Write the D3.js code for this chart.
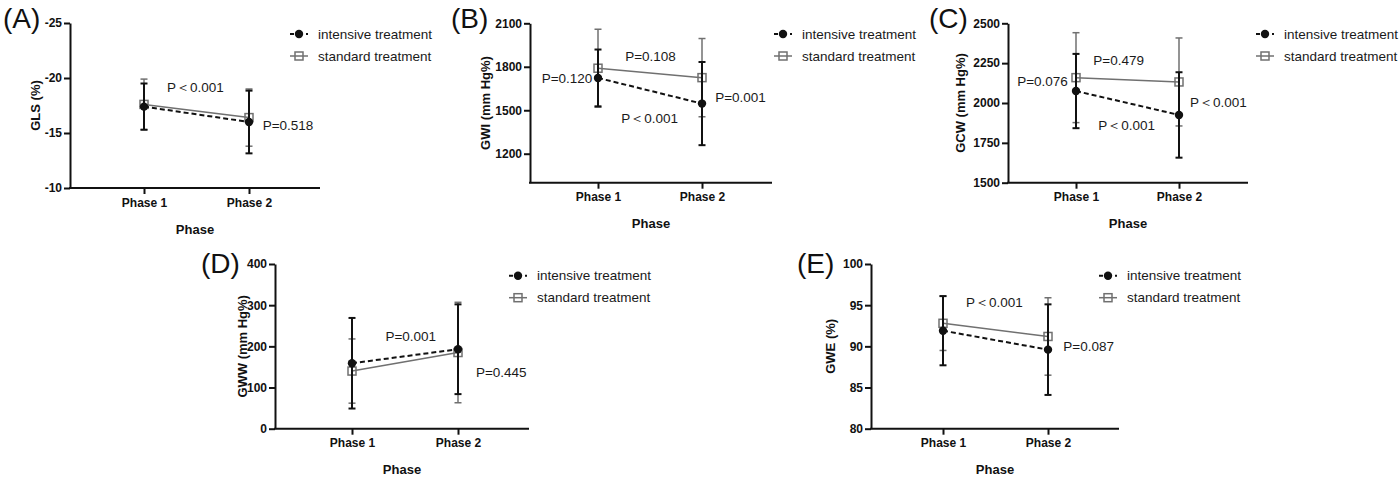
<!DOCTYPE html>
<html>
<head>
<meta charset="utf-8">
<script src="https://cdn.jsdelivr.net/npm/d3@7"></script>
<style>
  html, body { margin: 0; padding: 0; background: #fff; }
  svg { display: block; font-family: "Liberation Sans", Arial, sans-serif; }
</style>
</head>
<body>
<svg id="chart" width="1400" height="481"></svg>
<script>
// ---------------- data ----------------
const phases = ["Phase 1", "Phase 2"];
const seriesLabels = ["intensive treatment", "standard treatment"];
const xAxisTitle = "Phase";

// (A) GLS
const glsIntensiveMean = [-17.4, -16.0];
const glsIntensiveSD   = [2.1, 2.85];
const glsStandardMean  = [-17.6, -16.4];
const glsStandardSD    = [2.3, 2.6];
const glsTicks = [-25, -20, -15, -10];
const glsP = ["P＜0.001", "P=0.518"];

// (B) GWI
const gwiIntensiveMean = [1723, 1546];
const gwiIntensiveSD   = [196, 287];
const gwiStandardMean  = [1790, 1725];
const gwiStandardSD    = [269, 270];
const gwiTicks = [1200, 1500, 1800, 2100];
const gwiP = ["P=0.108", "P=0.120", "P=0.001", "P＜0.001"];

// (C) GCW
const gcwIntensiveMean = [2075, 1925];
const gcwIntensiveSD   = [233, 268];
const gcwStandardMean  = [2159, 2132];
const gcwStandardSD    = [282, 276];
const gcwTicks = [1500, 1750, 2000, 2250, 2500];
const gcwP = ["P=0.479", "P=0.076", "P＜0.001", "P＜0.001"];

// (D) GWW
const gwwIntensiveMean = [159, 193];
const gwwIntensiveSD   = [110, 109];
const gwwStandardMean  = [140, 185];
const gwwStandardSD    = [78, 122];
const gwwTicks = [0, 100, 200, 300, 400];
const gwwP = ["P=0.001", "P=0.445"];

// (E) GWE
const gweIntensiveMean = [91.9, 89.6];
const gweIntensiveSD   = [4.2, 5.5];
const gweStandardMean  = [92.8, 91.2];
const gweStandardSD    = [3.3, 4.7];
const gweTicks = [80, 85, 90, 95, 100];
const gweP = ["P＜0.001", "P=0.087"];

// ---------------- panels (data + layout) ----------------
const panels = [
  { tag: "(A)", title: "GLS (%)", im: glsIntensiveMean, isd: glsIntensiveSD, sm: glsStandardMean, ssd: glsStandardSD,
    ticks: glsTicks, domain: [-10, -25], pText: glsP,
    L: { x0: 70, x1: 320, yTop: 23, yBot: 188, p1: 144, p2: 249, titleX: 35, tagX: 3, tagY: 27.5, legX: 299, legY: 34,
         pPos: [[195.5, 87, "middle"], [262.7, 125, "start"]] } },
  { tag: "(B)", title: "GWI (mm Hg%)", im: gwiIntensiveMean, isd: gwiIntensiveSD, sm: gwiStandardMean, ssd: gwiStandardSD,
    ticks: gwiTicks, domain: [1000, 2100], pText: gwiP,
    L: { x0: 530, x1: 772, yTop: 23.3, yBot: 182.7, p1: 598, p2: 702, titleX: 485.5, tagX: 451, tagY: 27.5, legX: 783, legY: 34,
         pPos: [[650.5, 56, "middle"], [567, 78.7, "middle"], [740.5, 97, "middle"], [649.7, 118.3, "middle"]] } },
  { tag: "(C)", title: "GCW (mm Hg%)", im: gcwIntensiveMean, isd: gcwIntensiveSD, sm: gcwStandardMean, ssd: gcwStandardSD,
    ticks: gcwTicks, domain: [1500, 2500], pText: gcwP,
    L: { x0: 1008, x1: 1248, yTop: 23.3, yBot: 182.7, p1: 1076, p2: 1179, titleX: 960.8, tagX: 929, tagY: 27.5, legX: 1265, legY: 34,
         pPos: [[1118.7, 60, "middle"], [1042.5, 81, "middle"], [1218.3, 102.7, "middle"], [1126.7, 125.3, "middle"]] } },
  { tag: "(D)", title: "GWW (mm Hg%)", im: gwwIntensiveMean, isd: gwwIntensiveSD, sm: gwwStandardMean, ssd: gwwStandardSD,
    ticks: gwwTicks, domain: [0, 400], pText: gwwP,
    L: { x0: 275, x1: 529, yTop: 264, yBot: 428.7, p1: 352, p2: 458, titleX: 242, tagX: 201, tagY: 273, legX: 518, legY: 275.7,
         pPos: [[410.8, 336, "middle"], [501.3, 372.3, "middle"]] } },
  { tag: "(E)", title: "GWE (%)", im: gweIntensiveMean, isd: gweIntensiveSD, sm: gweStandardMean, ssd: gweStandardSD,
    ticks: gweTicks, domain: [80, 100], pText: gweP,
    L: { x0: 871, x1: 1119, yTop: 264, yBot: 428.7, p1: 943, p2: 1048, titleX: 830.7, tagX: 797, tagY: 273, legX: 1108, legY: 275.7,
         pPos: [[994.5, 302.7, "middle"], [1088.7, 346.7, "middle"]] } }
];

const BLACK = "#111";
const GRAY = "#707070";
const FONT = "'Liberation Sans', Arial, sans-serif";
const svg = d3.select("#chart");

panels.forEach(p => {
  const L = p.L;
  const g = svg.append("g");
  const y = d3.scaleLinear().domain(p.domain).range([L.yBot, L.yTop]);
  const x = d3.scalePoint().domain(phases).range([L.p1, L.p2]);

  // y axis
  const ya = g.append("g").attr("transform", `translate(${L.x0},0)`)
    .call(d3.axisLeft(y).tickValues(p.ticks).tickFormat(d => String(d))
      .tickSize(6).tickSizeOuter(0).tickPadding(2));
  ya.select(".domain").attr("stroke", BLACK).attr("stroke-width", 2);
  ya.selectAll(".tick line").attr("stroke", BLACK).attr("stroke-width", 2);
  ya.selectAll(".tick text").attr("fill", BLACK)
    .style("font-size", "12px").style("font-weight", "bold").style("font-family", FONT);

  // x axis
  const xa = g.append("g").attr("transform", `translate(0,${L.yBot})`)
    .call(d3.axisBottom(x).tickSize(6).tickPadding(4));
  xa.select(".domain").remove();
  xa.selectAll(".tick line").attr("stroke", BLACK).attr("stroke-width", 2);
  xa.selectAll(".tick text").attr("fill", BLACK)
    .style("font-size", "12px").style("font-weight", "bold").style("font-family", FONT);
  g.append("line").attr("x1", L.x0 - 1).attr("x2", L.x1).attr("y1", L.yBot).attr("y2", L.yBot)
    .attr("stroke", BLACK).attr("stroke-width", 2);

  // titles
  g.append("text").attr("x", (L.x0 + L.x1) / 2).attr("y", L.yBot + 41).attr("dy", "0.35em")
    .attr("text-anchor", "middle").style("font-size", "13px").style("font-weight", "bold").attr("fill", BLACK)
    .text(xAxisTitle);
  g.append("text").attr("transform", `translate(${L.titleX},${(L.yTop + L.yBot) / 2}) rotate(-90)`)
    .attr("dy", "0.35em").attr("text-anchor", "middle").style("font-size", "13px").style("font-weight", "bold")
    .attr("fill", BLACK).text(p.title);
  g.append("text").attr("x", L.tagX).attr("y", L.tagY).style("font-size", "28px").attr("fill", BLACK).text(p.tag);

  // series
  const series = [
    { mean: p.sm, sd: p.ssd, color: GRAY, width: 1.5, dash: null, shape: "square" },
    { mean: p.im, sd: p.isd, color: BLACK, width: 2, dash: "5,3", shape: "circle" }
  ];
  series.forEach(s => {
    const pts = phases.map((ph, i) => ({ ph, m: s.mean[i], sd: s.sd[i] }));
    // error bars
    pts.forEach(d => {
      const cx = x(d.ph);
      g.append("line").attr("x1", cx).attr("x2", cx).attr("y1", y(d.m - d.sd)).attr("y2", y(d.m + d.sd))
        .attr("stroke", s.color).attr("stroke-width", s.width);
      [d.m - d.sd, d.m + d.sd].forEach(v => {
        g.append("line").attr("x1", cx - 3.5).attr("x2", cx + 3.5).attr("y1", y(v)).attr("y2", y(v))
          .attr("stroke", s.color).attr("stroke-width", s.width);
      });
    });
    // line
    g.append("path").datum(pts)
      .attr("d", d3.line().x(d => x(d.ph)).y(d => y(d.m)))
      .attr("fill", "none").attr("stroke", s.color).attr("stroke-width", s.width)
      .attr("stroke-dasharray", s.dash);
    // markers
    pts.forEach(d => {
      if (s.shape === "circle") {
        g.append("circle").attr("cx", x(d.ph)).attr("cy", y(d.m)).attr("r", 4.2).attr("fill", BLACK);
      } else {
        g.append("rect").attr("x", x(d.ph) - 4).attr("y", y(d.m) - 4).attr("width", 8).attr("height", 8)
          .attr("fill", "none").attr("stroke", GRAY).attr("stroke-width", 1.5);
      }
    });
  });

  // p-value annotations
  p.pText.forEach((t, i) => {
    const pos = L.pPos[i];
    g.append("text").attr("x", pos[0]).attr("y", pos[1]).attr("dy", "0.35em").attr("text-anchor", pos[2])
      .style("font-size", "13.5px").attr("fill", "#1a1a1a").text(t);
  });

  // legend
  seriesLabels.forEach((lab, i) => {
    const ly = L.legY + i * 22;
    const lx = L.legX;
    if (i === 0) {
      g.append("line").attr("x1", lx - 9).attr("x2", lx + 9).attr("y1", ly).attr("y2", ly)
        .attr("stroke", BLACK).attr("stroke-width", 2).attr("stroke-dasharray", "4,4");
      g.append("circle").attr("cx", lx).attr("cy", ly).attr("r", 4.2).attr("fill", BLACK);
    } else {
      g.append("line").attr("x1", lx - 9).attr("x2", lx + 9).attr("y1", ly).attr("y2", ly)
        .attr("stroke", GRAY).attr("stroke-width", 1.5);
      g.append("rect").attr("x", lx - 4).attr("y", ly - 4).attr("width", 8).attr("height", 8)
        .attr("fill", "none").attr("stroke", GRAY).attr("stroke-width", 1.5);
    }
    g.append("text").attr("x", lx + 19).attr("y", ly).attr("dy", "0.35em").style("font-size", "13.5px")
      .attr("fill", "#1a1a1a").text(lab);
  });
});
</script>
</body>
</html>
